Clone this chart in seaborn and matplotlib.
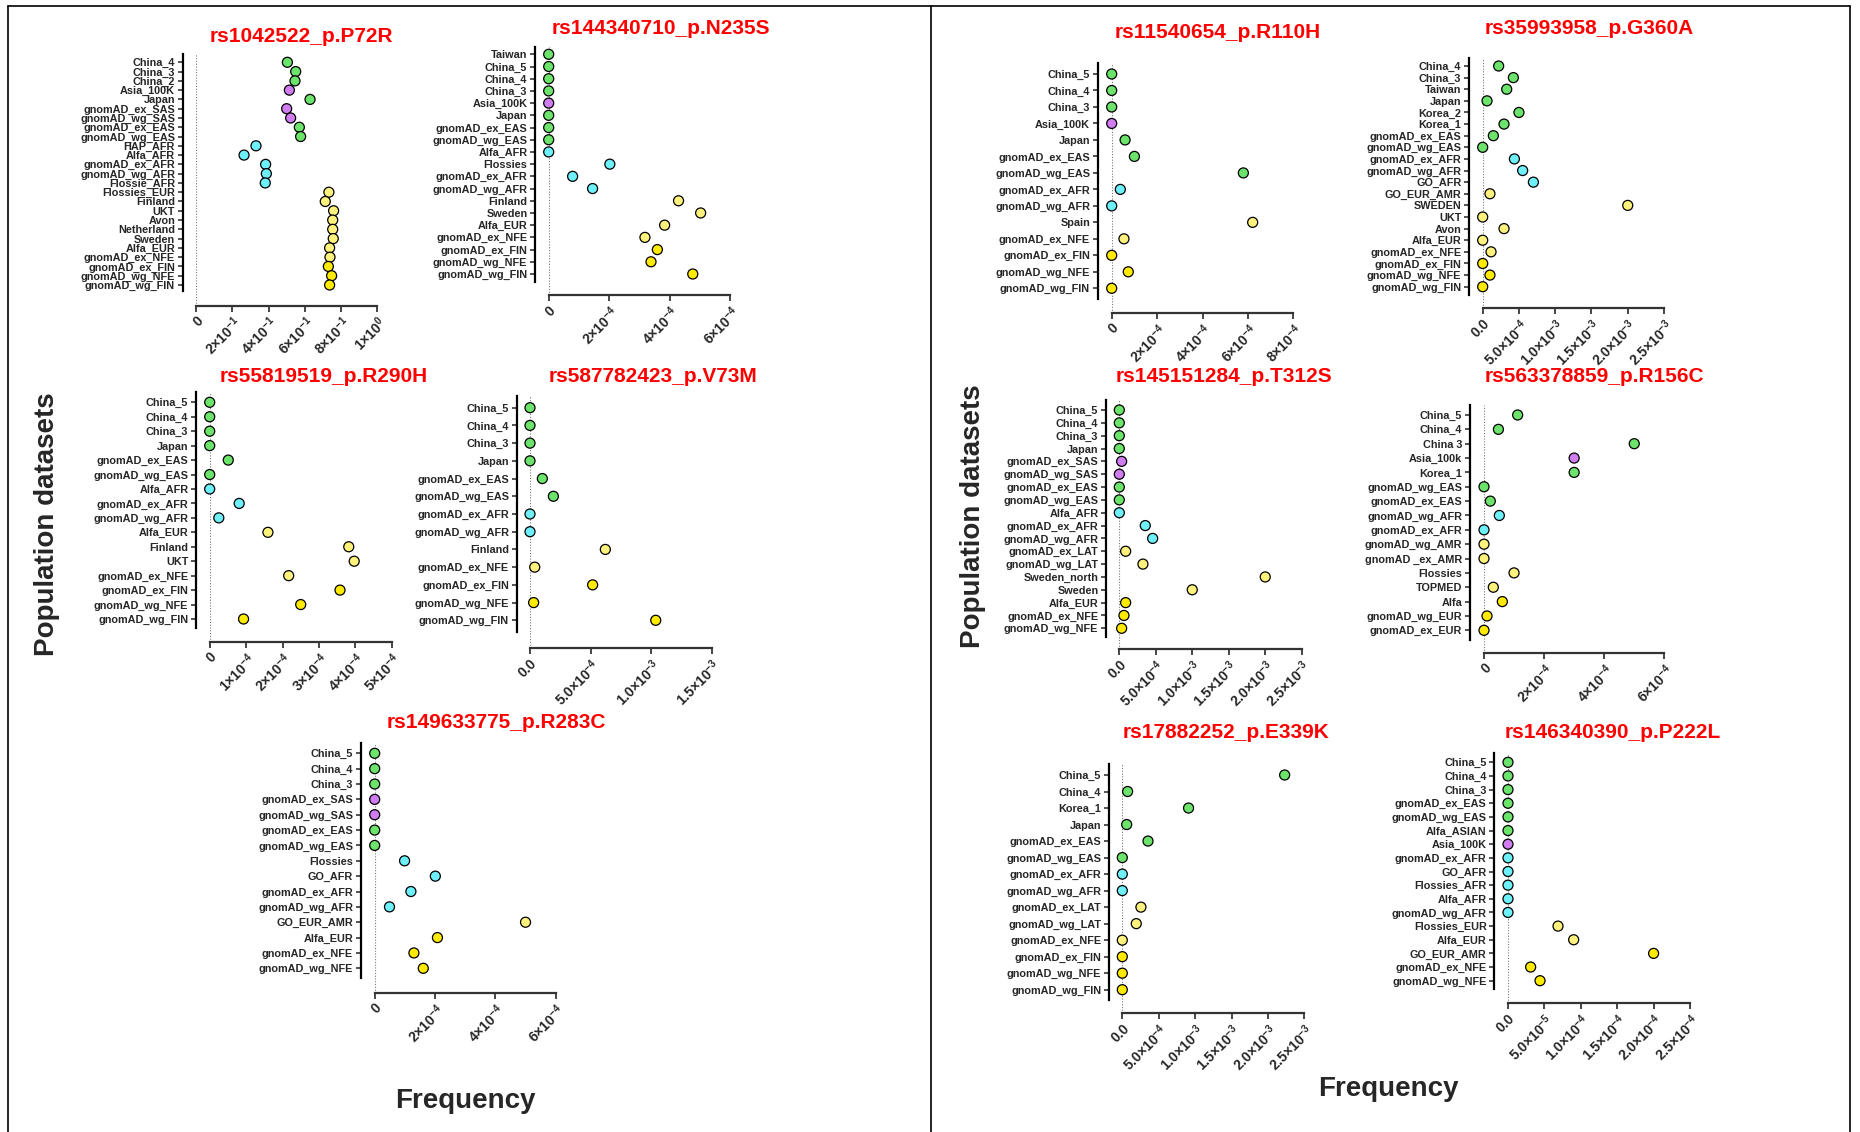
import numpy as np
import pandas as pd
import seaborn as sns
import matplotlib.pyplot as plt
from matplotlib.lines import Line2D

# ---- data -------------------------------------------------------------
def sci(m, e):
    return r'$%s{\times}10^{%d}$' % (m, e)

p1_title = 'rs1042522_p.P72R'
p1_labels = ['China_4', 'China_3', 'China_2', 'Asia_100K', 'Japan', 'gnomAD_ex_SAS', 'gnomAD_wg_SAS',
             'gnomAD_ex_EAS', 'gnomAD_wg_EAS', 'HAP_AFR', 'Alfa_AFR', 'gnomAD_ex_AFR', 'gnomAD_wg_AFR',
             'Flossie_AFR', 'Flossies_EUR', 'Finland', 'UKT', 'Avon', 'Netherland', 'Sweden', 'Alfa_EUR',
             'gnomAD_ex_NFE', 'gnomAD_ex_FIN', 'gnomAD_wg_NFE', 'gnomAD_wg_FIN']
p1_values = [0.504, 0.55, 0.546, 0.515, 0.629, 0.50, 0.522, 0.57, 0.577, 0.331, 0.265, 0.384, 0.388,
             0.382, 0.733, 0.713, 0.759, 0.754, 0.754, 0.757, 0.737, 0.739, 0.73, 0.748, 0.737]
p1_groups = list('EEESESSEEAAAAALLLLLLLLYYY')
p1_ticks = [0, 0.2, 0.4, 0.6, 0.8, 1.0]
p1_ticklabels = ['0', sci(2, -1), sci(4, -1), sci(6, -1), sci(8, -1), sci(1, 0)]

p2_title = 'rs144340710_p.N235S'
p2_labels = ['Taiwan', 'China_5', 'China_4', 'China_3', 'Asia_100K', 'Japan', 'gnomAD_ex_EAS', 'gnomAD_wg_EAS',
             'Alfa_AFR', 'Flossies', 'gnomAD_ex_AFR', 'gnomAD_wg_AFR', 'Finland', 'Sweden', 'Alfa_EUR',
             'gnomAD_ex_NFE', 'gnomAD_ex_FIN', 'gnomAD_wg_NFE', 'gnomAD_wg_FIN']
p2_values = [0, 0, 0, 0, 0, 0, 0, 0, 0, 2.02e-4, 0.79e-4, 1.45e-4, 4.29e-4, 5.02e-4, 3.83e-4,
             3.18e-4, 3.59e-4, 3.38e-4, 4.76e-4]
p2_groups = list('EEEESEEEAAAALLLLYYY')
p2_ticks = [0, 2e-4, 4e-4, 6e-4]
p2_ticklabels = ['0', sci(2, -4), sci(4, -4), sci(6, -4)]

p3_title = 'rs55819519_p.R290H'
p3_labels = ['China_5', 'China_4', 'China_3', 'Japan', 'gnomAD_ex_EAS', 'gnomAD_wg_EAS', 'Alfa_AFR',
             'gnomAD_ex_AFR', 'gnomAD_wg_AFR', 'Alfa_EUR', 'Finland', 'UKT', 'gnomAD_ex_NFE',
             'gnomAD_ex_FIN', 'gnomAD_wg_NFE', 'gnomAD_wg_FIN']
p3_values = [0, 0, 0, 0, 0.51e-4, 0, 0, 0.81e-4, 0.25e-4, 1.6e-4, 3.82e-4, 3.97e-4, 2.17e-4,
             3.58e-4, 2.5e-4, 0.93e-4]
p3_groups = list('EEEEEEAAALLLLYYY')
p3_ticks = [0, 1e-4, 2e-4, 3e-4, 4e-4, 5e-4]
p3_ticklabels = ['0', sci(1, -4), sci(2, -4), sci(3, -4), sci(4, -4), sci(5, -4)]

p4_title = 'rs587782423_p.V73M'
p4_labels = ['China_5', 'China_4', 'China_3', 'Japan', 'gnomAD_ex_EAS', 'gnomAD_wg_EAS', 'gnomAD_ex_AFR',
             'gnomAD_wg_AFR', 'Finland', 'gnomAD_ex_NFE', 'gnomAD_ex_FIN', 'gnomAD_wg_NFE', 'gnomAD_wg_FIN']
p4_values = [0, 0, 0, 0, 1.02e-4, 1.93e-4, 0, 0, 6.22e-4, 0.39e-4, 5.17e-4, 0.3e-4, 10.38e-4]
p4_groups = list('EEEEEEAALLYYY')
p4_ticks = [0, 5e-4, 1e-3, 1.5e-3]
p4_ticklabels = ['0.0', sci('5.0', -4), sci('1.0', -3), sci('1.5', -3)]

p5_title = 'rs149633775_p.R283C'
p5_labels = ['China_5', 'China_4', 'China_3', 'gnomAD_ex_SAS', 'gnomAD_wg_SAS', 'gnomAD_ex_EAS',
             'gnomAD_wg_EAS', 'Flossies', 'GO_AFR', 'gnomAD_ex_AFR', 'gnomAD_wg_AFR', 'GO_EUR_AMR',
             'Alfa_EUR', 'gnomAD_ex_NFE', 'gnomAD_wg_NFE']
p5_values = [0, 0, 0, 0, 0, 0, 0, 0.99e-4, 2.01e-4, 1.2e-4, 0.49e-4, 5.0e-4, 2.08e-4, 1.3e-4, 1.61e-4]
p5_groups = list('EEESSEEAAAALYYY')
p5_ticks = [0, 2e-4, 4e-4, 6e-4]
p5_ticklabels = ['0', sci(2, -4), sci(4, -4), sci(6, -4)]

p6_title = 'rs11540654_p.R110H'
p6_labels = ['China_5', 'China_4', 'China_3', 'Asia_100K', 'Japan', 'gnomAD_ex_EAS', 'gnomAD_wg_EAS',
             'gnomAD_ex_AFR', 'gnomAD_wg_AFR', 'Spain', 'gnomAD_ex_NFE', 'gnomAD_ex_FIN', 'gnomAD_wg_NFE',
             'gnomAD_wg_FIN']
p6_values = [0, 0, 0, 0, 0.59e-4, 1.0e-4, 5.8e-4, 0.38e-4, 0, 6.21e-4, 0.54e-4, 0, 0.73e-4, 0]
p6_groups = list('EEESEEEAALLYYY')
p6_ticks = [0, 2e-4, 4e-4, 6e-4, 8e-4]
p6_ticklabels = ['0', sci(2, -4), sci(4, -4), sci(6, -4), sci(8, -4)]

p7_title = 'rs35993958_p.G360A'
p7_labels = ['China_4', 'China_3', 'Taiwan', 'Japan', 'Korea_2', 'Korea_1', 'gnomAD_ex_EAS', 'gnomAD_wg_EAS',
             'gnomAD_ex_AFR', 'gnomAD_wg_AFR', 'GO_AFR', 'GO_EUR_AMR', 'SWEDEN', 'UKT', 'Avon', 'Alfa_EUR',
             'gnomAD_ex_NFE', 'gnomAD_ex_FIN', 'gnomAD_wg_NFE', 'gnomAD_wg_FIN']
p7_values = [2.2e-4, 4.23e-4, 3.31e-4, 0.6e-4, 5.0e-4, 2.94e-4, 1.47e-4, 0, 4.37e-4, 5.51e-4, 6.99e-4,
             1.0e-4, 2.0e-3, 0, 2.94e-4, 0, 1.15e-4, 0, 1.0e-4, 0]
p7_groups = list('EEEEEEEEAAALLLLLLYYY')
p7_ticks = [0, 5e-4, 1e-3, 1.5e-3, 2e-3, 2.5e-3]
p7_ticklabels = ['0.0', sci('5.0', -4), sci('1.0', -3), sci('1.5', -3), sci('2.0', -3), sci('2.5', -3)]

p8_title = 'rs145151284_p.T312S'
p8_labels = ['China_5', 'China_4', 'China_3', 'Japan', 'gnomAD_ex_SAS', 'gnomAD_wg_SAS', 'gnomAD_ex_EAS',
             'gnomAD_wg_EAS', 'Alfa_AFR', 'gnomAD_ex_AFR', 'gnomAD_wg_AFR', 'gnomAD_ex_LAT', 'gnomAD_wg_LAT',
             'Sweden_north', 'Sweden', 'Alfa_EUR', 'gnomAD_ex_NFE', 'gnomAD_wg_NFE']
p8_values = [0, 0, 0, 0, 0.32e-4, 0, 0, 0, 0, 3.56e-4, 4.57e-4, 0.87e-4, 3.24e-4, 2.0e-3, 1.0e-3,
             0.87e-4, 0.64e-4, 0.32e-4]
p8_groups = list('EEEESSEEAAALLLLYYY')
p8_ticks = p7_ticks
p8_ticklabels = p7_ticklabels

p9_title = 'rs563378859_p.R156C'
p9_labels = ['China_5', 'China_4', 'China 3', 'Asia_100k', 'Korea_1', 'gnomAD_wg_EAS', 'gnomAD_ex_EAS',
             'gnomAD_wg_AFR', 'gnomAD_ex_AFR', 'gnomAD_wg_AMR', 'gnomAD _ex_AMR', 'Flossies', 'TOPMED',
             'Alfa', 'gnomAD_wg_EUR', 'gnomAD_ex_EUR']
p9_values = [1.12e-4, 0.48e-4, 5.0e-4, 3.0e-4, 3.0e-4, 0, 0.21e-4, 0.51e-4, 0, 0, 0, 1.0e-4, 0.31e-4,
             0.61e-4, 0.1e-4, 0]
p9_groups = list('EEESEEEAALLLLYYY')
p9_ticks = [0, 2e-4, 4e-4, 6e-4]
p9_ticklabels = ['0', sci(2, -4), sci(4, -4), sci(6, -4)]

p10_title = 'rs17882252_p.E339K'
p10_labels = ['China_5', 'China_4', 'Korea_1', 'Japan', 'gnomAD_ex_EAS', 'gnomAD_wg_EAS', 'gnomAD_ex_AFR',
              'gnomAD_wg_AFR', 'gnomAD_ex_LAT', 'gnomAD_wg_LAT', 'gnomAD_ex_NFE', 'gnomAD_ex_FIN',
              'gnomAD_wg_NFE', 'gnomAD_wg_FIN']
p10_values = [2.23e-3, 0.73e-4, 9.1e-4, 0.6e-4, 3.53e-4, 0, 0, 0, 2.56e-4, 1.92e-4, 0, 0, 0, 0]
p10_groups = list('EEEEEEAALLLYYY')
p10_ticks = p7_ticks
p10_ticklabels = p7_ticklabels

p11_title = 'rs146340390_p.P222L'
p11_labels = ['China_5', 'China_4', 'China_3', 'gnomAD_ex_EAS', 'gnomAD_wg_EAS', 'Alfa_ASIAN', 'Asia_100K',
              'gnomAD_ex_AFR', 'GO_AFR', 'Flossies_AFR', 'Alfa_AFR', 'gnomAD_wg_AFR', 'Flossies_EUR',
              'Alfa_EUR', 'GO_EUR_AMR', 'gnomAD_ex_NFE', 'gnomAD_wg_NFE']
p11_values = [0, 0, 0, 0, 0, 0, 0, 0, 0, 0, 0, 0, 6.87e-5, 9.02e-5, 2.0e-4, 3.11e-5, 4.4e-5]
p11_groups = list('EEEEEESAAAAALLYYY')
p11_ticks = [0, 5e-5, 1e-4, 1.5e-4, 2e-4, 2.5e-4]
p11_ticklabels = ['0.0', sci('5.0', -5), sci('1.0', -4), sci('1.5', -4), sci('2.0', -4), sci('2.5', -4)]

palette = {'E': '#6CE46C', 'S': '#CF7DF0', 'A': '#6EF0FA', 'L': '#FFF27C', 'Y': '#FFEA00'}

# ---- style ------------------------------------------------------------
sns.set_style("white")
plt.rcParams['font.family'] = ['Liberation Sans', 'DejaVu Sans']
plt.rcParams['font.weight'] = 'bold'
plt.rcParams['mathtext.fontset'] = 'custom'
plt.rcParams['mathtext.rm'] = 'Liberation Sans:bold'
plt.rcParams['mathtext.bf'] = 'Liberation Sans:bold'
plt.rcParams['mathtext.it'] = 'Liberation Sans:bold'
plt.rcParams['mathtext.default'] = 'bf'

YLAB_SIZE = 7.8
XLAB_SIZE = 10

W, H = 1860, 1132
fig = plt.figure(figsize=(W / 100, H / 100), dpi=100)

# pixel layout: spine_x, x0, x1, top, first, last, spine_bottom, xaxis_y, title_x, title_y
layout = [
    (182.7, 196.0, 377.3, 54.3, 62.3, 285.0, 291.0, 305.7, 301, 36),
    (535.0, 548.7, 730.3, 46.7, 54.3, 274.0, 281.7, 295.0, 661, 28),
    (196.0, 209.7, 391.7, 392.3, 402.3, 619.0, 628.3, 641.7, 324, 377),
    (516.7, 530.0, 711.7, 395.7, 407.7, 620.3, 631.7, 647.7, 653, 377),
    (360.7, 374.7, 555.7, 742.7, 753.3, 968.3, 978.3, 992.7, 496, 722),
    (1097.7, 1111.7, 1293.3, 63.3, 74.0, 288.3, 299.0, 312.7, 1218, 33),
    (1469.0, 1482.7, 1664.0, 57.7, 66.0, 286.7, 295.0, 307.7, 1589, 28),
    (1106.0, 1119.3, 1301.7, 400.0, 410.0, 628.3, 636.7, 649.3, 1224, 377),
    (1470.0, 1484.0, 1664.3, 405.0, 415.0, 630.3, 640.0, 652.7, 1594, 377),
    (1109.0, 1122.3, 1304.3, 764.3, 775.0, 989.7, 1000.0, 1013.3, 1226, 733),
    (1494.3, 1508.0, 1690.0, 753.3, 762.3, 980.7, 989.3, 1003.3, 1613, 733),
]

panels = [
    (p1_title, p1_labels, p1_values, p1_groups, p1_ticks, p1_ticklabels),
    (p2_title, p2_labels, p2_values, p2_groups, p2_ticks, p2_ticklabels),
    (p3_title, p3_labels, p3_values, p3_groups, p3_ticks, p3_ticklabels),
    (p4_title, p4_labels, p4_values, p4_groups, p4_ticks, p4_ticklabels),
    (p5_title, p5_labels, p5_values, p5_groups, p5_ticks, p5_ticklabels),
    (p6_title, p6_labels, p6_values, p6_groups, p6_ticks, p6_ticklabels),
    (p7_title, p7_labels, p7_values, p7_groups, p7_ticks, p7_ticklabels),
    (p8_title, p8_labels, p8_values, p8_groups, p8_ticks, p8_ticklabels),
    (p9_title, p9_labels, p9_values, p9_groups, p9_ticks, p9_ticklabels),
    (p10_title, p10_labels, p10_values, p10_groups, p10_ticks, p10_ticklabels),
    (p11_title, p11_labels, p11_values, p11_groups, p11_ticks, p11_ticklabels),
]

for (title, labels, values, groups, ticks, ticklabels), box in zip(panels, layout):
    sx, x0, x1, top, first, last, sbot, xay, tx, ty = box
    n = len(labels)
    d = (last - first) / (n - 1)
    y_top = -(first - top) / d
    y_bot = (n - 1) + (xay - last) / d

    ax = fig.add_axes([x0 / W, 1 - xay / H, (x1 - x0) / W, (xay - top) / H])
    ax.patch.set_alpha(0)
    df = pd.DataFrame({'freq': values, 'pos': np.arange(n), 'grp': groups})
    ax.axvline(0, color='#777777', lw=0.8, ls=(0, (1, 1.5)), zorder=1)
    sns.scatterplot(data=df, x='freq', y='pos', hue='grp', palette=palette, s=52,
                    edgecolor='black', linewidth=0.9, legend=False, ax=ax,
                    clip_on=False, zorder=3)

    ax.tick_params(axis='y', direction='out', length=3.5, width=1.1, pad=2, left=True,
                   labelsize=YLAB_SIZE)
    ax.tick_params(axis='x', direction='out', length=4, width=1.2, pad=2, bottom=True,
                   labelsize=XLAB_SIZE)

    ax.set_xlim(ticks[0], ticks[-1])
    ax.set_ylim(y_bot, y_top)
    ax.set_yticks(np.arange(n))
    ax.set_yticklabels(labels)
    ax.set_xticks(ticks)
    ax.set_xticklabels(ticklabels, rotation=45, ha='right', rotation_mode='anchor')
    for t in ax.get_yticklabels():
        t.set_fontsize(YLAB_SIZE)
        t.set_fontweight('bold')
    for t in ax.get_xticklabels():
        t.set_fontsize(XLAB_SIZE)
    ax.set_xlabel('')
    ax.set_ylabel('')

    for s in ['top', 'right']:
        ax.spines[s].set_visible(False)
    ax.spines['left'].set_position(('outward', (x0 - sx) * 0.72))
    ax.spines['left'].set_bounds(y_top, (n - 1) + (sbot - last) / d)
    ax.spines['left'].set_linewidth(1.6)
    ax.spines['left'].set_color('black')
    ax.spines['bottom'].set_linewidth(1.6)
    ax.spines['bottom'].set_color('#333333')

    fig.text(tx / W, 1 - ty / H, title, ha='center', va='center', color='red',
             fontsize=15, fontweight='bold')

# axis titles
for x, y in [(47, 524), (973, 516)]:
    fig.text(x / W, 1 - y / H, 'Population datasets', rotation=90, ha='center', va='center',
             fontsize=20, fontweight='bold')
for x, y in [(465, 1101), (1388, 1089)]:
    fig.text(x / W, 1 - y / H, 'Frequency', ha='center', va='center', fontsize=20, fontweight='bold')

# panel frames
for xs, ys in [([8, 1850], [6, 6]), ([8, 8], [6, 1132]), ([931, 931], [6, 1132]), ([1850, 1850], [6, 1132])]:
    fig.add_artist(Line2D([v / W for v in xs], [1 - v / H for v in ys], color='black', lw=1.2))

fig.savefig('out.png', dpi=100)
